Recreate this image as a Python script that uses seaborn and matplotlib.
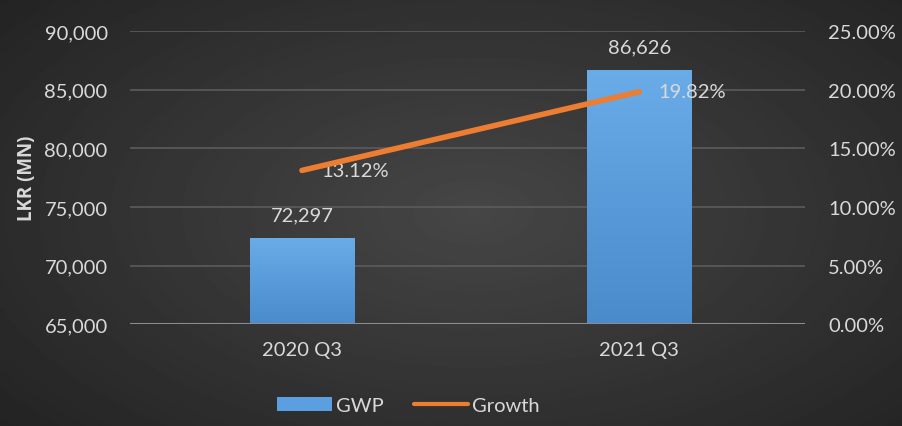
import numpy as np
import pandas as pd
import matplotlib
matplotlib.use("Agg")
import matplotlib.pyplot as plt
import seaborn as sns
from matplotlib.lines import Line2D
from matplotlib.patches import Patch
from matplotlib.colors import LinearSegmentedColormap

# Gross written premium by quarter, with year-on-year growth
quarters = ["2020 Q3", "2021 Q3"]
gwp = [72297, 86626]
growth = [13.12, 19.82]

gwp_ticks = [65000, 70000, 75000, 80000, 85000, 90000]
growth_ticks = [0, 5, 10, 15, 20, 25]

TEXT = "#d9d9d9"
GRID = "#5c5c5c"
BAR = "#5b9fe0"
LINE = "#ed7d31"
FS = 14.5

sns.set_theme(style="dark")
plt.rcParams["font.family"] = ["Lato", "DejaVu Sans"]

fig = plt.figure(figsize=(9.02, 4.27), dpi=100)

# dark radial background
bg = fig.add_axes([0, 0, 1, 1], zorder=-10)
yy, xx = np.mgrid[-1:1:300j, -1:1:600j]
r = np.sqrt(((xx - 0.05) * 0.9) ** 2 + (yy * 0.8) ** 2)
shade = np.clip(0.275 - 0.11 * r, 0.13, 0.3)
bg.imshow(shade, cmap="gray", vmin=0, vmax=1, aspect="auto", extent=[0, 1, 0, 1])
bg.set_axis_off()

ax = fig.add_axes([0.144, 0.238, 0.748, 0.687])
ax.set_facecolor("none")

df = pd.DataFrame({"quarter": quarters, "gwp": gwp, "growth": growth})
sns.barplot(data=df, x="quarter", y="gwp", color=BAR, width=0.31,
            saturation=1, ax=ax, zorder=3, edgecolor="none", linewidth=0)

xlim = (-0.51, 1.49)
ylim = (gwp_ticks[0], gwp_ticks[-1])

# vertical light-to-dark shading over the visible part of each bar
grad = np.linspace(1, 0, 256).reshape(-1, 1)
bar_cmap = LinearSegmentedColormap.from_list("barshade", ["#4a8bcc", "#69ace8"])
for p in list(ax.patches):
    x0, w = p.get_x(), p.get_width()
    top = p.get_y() + p.get_height()
    ax.imshow(grad, cmap=bar_cmap, aspect="auto", zorder=3.5,
              extent=[x0, x0 + w, ylim[0], top], origin="upper")
ax.set_xlim(*xlim)
ax.set_ylim(*ylim)

ax.set_yticks(gwp_ticks)
ax.set_yticklabels([f"{v:,}" for v in gwp_ticks], color=TEXT, fontsize=FS)
ax.set_xticks(range(len(quarters)))
ax.set_xticklabels(quarters, color=TEXT, fontsize=FS)
ax.tick_params(axis="x", length=0, pad=12)
ax.tick_params(axis="y", length=0, pad=16)
ax.set_xlabel("")
ax.set_ylabel("LKR (MN)", color=TEXT, fontsize=13.5, fontweight="bold",
              family=["Open Sans", "DejaVu Sans"], labelpad=5)
ax.grid(axis="y", color=GRID, linewidth=1.2, zorder=0)
ax.grid(axis="x", visible=False)
for s in ax.spines.values():
    s.set_visible(False)
ax.axhline(gwp_ticks[0], color="#8c8c8c", linewidth=1.5, zorder=4)

for i, v in enumerate(gwp):
    ax.annotate(f"{v:,}", (i, v), xytext=(0, 11), textcoords="offset points",
                ha="center", va="bottom", color=TEXT, fontsize=FS)

ax2 = ax.twinx()
ax2.set_facecolor("none")
sns.lineplot(x=list(range(len(quarters))), y=growth, color=LINE, linewidth=4,
             ax=ax2, solid_capstyle="round", zorder=5)
ax2.set_ylim(growth_ticks[0], growth_ticks[-1])
ax2.set_yticks(growth_ticks)
ax2.set_yticklabels([f"{v:.2f}%" for v in growth_ticks], color=TEXT, fontsize=FS)
ax2.tick_params(axis="y", length=0, pad=17)
ax2.grid(False)
for s in ax2.spines.values():
    s.set_visible(False)

for i, v in enumerate(growth):
    ax2.annotate(f"{v:.2f}%", (i, v), xytext=(14, 0), textcoords="offset points",
                 ha="left", va="center", color=TEXT, fontsize=FS)

handles = [Patch(facecolor=BAR, edgecolor="none"),
           Line2D([0], [0], color=LINE, linewidth=3)]
fig.legend(handles, ["GWP", "Growth"], loc="center", bbox_to_anchor=(0.453, 0.047),
           ncol=2, frameon=False, fontsize=FS, labelcolor=TEXT,
           handlelength=2.7, handleheight=0.7, handletextpad=0.2, columnspacing=1.5)

fig.savefig("out.png", dpi=100)
